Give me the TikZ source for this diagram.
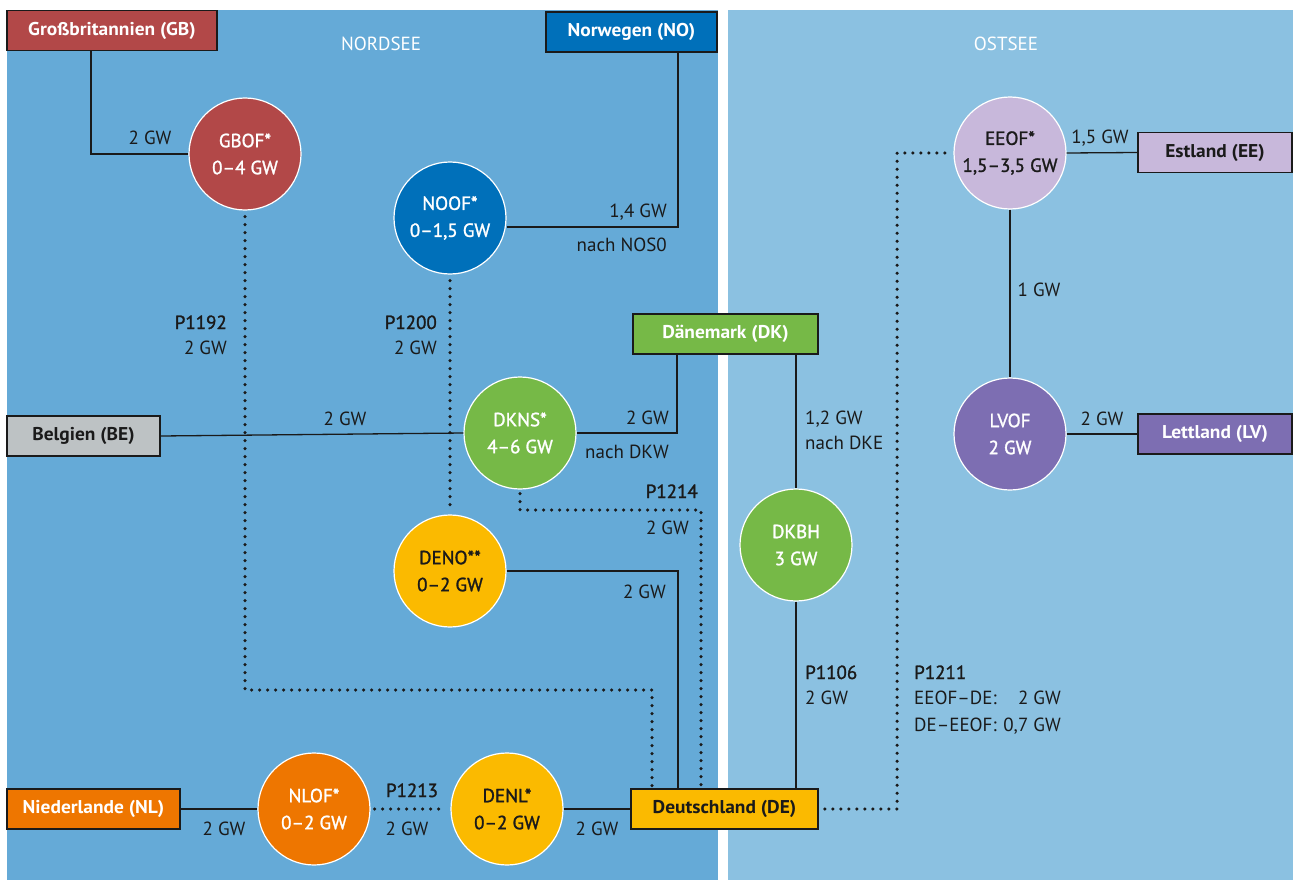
\documentclass[tikz,border=0pt]{standalone}
\usepackage{fontspec}
\setmainfont{PT Sans}[Ligatures=TeX]
\newfontfamily\medfont{PT Sans}[FakeBold=1.4, Ligatures=TeX]
\newfontfamily\boldfont{PT Sans Bold}[FakeStretch=1.05, Ligatures=TeX]
\definecolor{nord}{HTML}{65AAD7}
\definecolor{ost}{HTML}{8BC1E1}
\definecolor{gbred}{HTML}{B24848}
\definecolor{noblue}{HTML}{0070BA}
\definecolor{dkgreen}{HTML}{76B947}
\definecolor{deyellow}{HTML}{FBBA00}
\definecolor{nlorange}{HTML}{EE7600}
\definecolor{begrey}{HTML}{BDC2C4}
\definecolor{eelilac}{HTML}{C8B8DB}
\definecolor{lvpurple}{HTML}{7D6EB2}
\definecolor{ink}{HTML}{1A1A1A}
\begin{document}
\begin{tikzpicture}[x=1pt,y=-1pt,
  every node/.style={font=\fontsize{19}{27}\selectfont, text=ink},
  box/.style={draw=ink, line width=1.5pt, minimum height=40pt, inner sep=0pt,
    font=\fontsize{18.5}{27}\selectfont\boldfont},
  hub/.style={circle, draw=white, line width=1.2pt, minimum size=112pt, inner sep=0pt,
    align=center, font=\fontsize{19}{27}\selectfont\medfont},
  lbl/.style={inner sep=0pt},
  plbl/.style={inner sep=0pt, font=\fontsize{19}{27}\selectfont\medfont},
  conn/.style={line width=1.3pt, draw=ink},
  dots/.style={line width=3.5pt, draw=ink, dash pattern=on 0pt off 8pt, line cap=round}
]
\useasboundingbox (0,0) rectangle (1293,880);
\fill[white] (0,0) rectangle (1293,880);
\fill[nord] (7,10) rectangle (718,880);
\fill[ost] (728,10) rectangle (1293,880);

\node[lbl, text=white, anchor=base] (nordsee) at (381,51) {NORDSEE};
\node[lbl, text=white, anchor=base] (ostsee) at (1006,51) {OSTSEE};

% country boxes
\node[box, fill=gbred, text=white, minimum width=210pt] (GB) at (112,30.5) {Großbritannien (GB)};
\node[box, fill=noblue, text=white, minimum width=171pt] (NO) at (631.5,32) {Norwegen (NO)};
\node[box, fill=dkgreen, text=white, minimum width=185pt] (DK) at (725.5,334) {Dänemark (DK)};
\node[box, fill=begrey, minimum width=153pt] (BE) at (83.5,436) {Belgien (BE)};
\node[box, fill=deyellow, minimum width=187pt] (DE) at (724.5,809) {Deutschland (DE)};
\node[box, fill=nlorange, text=white, minimum width=173pt] (NL) at (93.5,809) {Niederlande (NL)};
\node[box, fill=eelilac, minimum width=154pt] (EE) at (1215,152.5) {Estland (EE)};
\node[box, fill=lvpurple, text=white, minimum width=154pt] (LV) at (1215,434) {Lettland (LV)};

% hubs
\node[hub, fill=gbred, text=white] (GBOF) at (245,154) {GBOF*\\0–4 GW};
\node[hub, fill=noblue, text=white] (NOOF) at (450,218) {NOOF*\\0–1,5 GW};
\node[hub, fill=eelilac] (EEOF) at (1010,153) {EEOF*\\1,5–3,5 GW};
\node[hub, fill=dkgreen, text=white] (DKNS) at (520,433) {DKNS*\\4–6 GW};
\node[hub, fill=lvpurple, text=white] (LVOF) at (1010,434) {LVOF\\2 GW};
\node[hub, fill=dkgreen, text=white] (DKBH) at (796,545) {DKBH\\3 GW};
\node[hub, fill=deyellow] (DENO) at (450,571) {DENO**\\0–2 GW};
\node[hub, fill=nlorange, text=white] (NLOF) at (314,809) {NLOF*\\0–2 GW};
\node[hub, fill=deyellow] (DENL) at (507,809) {DENL*\\0–2 GW};

% coordinates for dotted routes
\coordinate (c1192) at (652,690);
\coordinate (c1214) at (701,510);
\coordinate (c1211) at (897,153);

% solid connectors
\draw[conn] ([xshift=-21pt]GB.south) |- (GBOF.west);
\draw[conn] ([xshift=46.5pt]NO.south) |- ([yshift=-9pt]NOOF.east);
\draw[conn] ([xshift=-48.5pt]DK.south) |- (DKNS.east);
\draw[conn] (DK.south -| DKBH.north) -- (DKBH.north);
\draw[conn] (BE.east) -- (DKNS.west);
\draw[conn] (EEOF.east) -- (EE.west);
\draw[conn] (EEOF.south) -- (LVOF.north);
\draw[conn] (LVOF.east) -- (LV.west);
\draw[conn] (DENO.east) -| ([xshift=-46.5pt]DE.north);
\draw[conn] (DKBH.south) -- (DKBH.south |- DE.north);
\draw[conn] (NL.east) -- (NLOF.west);
\draw[conn] (DENL.east) -- (DE.west);

% dotted connectors
\draw[dots] ([yshift=-6pt]GBOF.south) |- (c1192) -- (c1192 |- DE.north);
\draw[dots] ([yshift=-6pt]NOOF.south) -- ([yshift=4pt]DENO.north);
\draw[dots] ([yshift=-4pt]DKNS.south) |- (c1214) -- (c1214 |- DE.north);
\draw[dots] ([xshift=6pt]DE.east) -| (c1211) -- ([xshift=-4pt]EEOF.west);
\draw[dots] ([xshift=4pt]NLOF.east) -- ([xshift=-4pt]DENL.west);

% labels
\node[lbl, anchor=base] (l1) at (150,145) {2 GW};
\node[lbl, anchor=base east] (l2) at (667,217) {1,4 GW};
\node[lbl, anchor=base east] (l3) at (667,251) {nach NOS0};
\node[lbl, anchor=base east] (l4) at (669,424) {2 GW};
\node[lbl, anchor=base east] (l5) at (669,458) {nach DKW};
\node[lbl, anchor=base west] (l6) at (805,424) {1,2 GW};
\node[lbl, anchor=base west] (l7) at (805,449) {nach DKE};
\node[lbl, anchor=base] (l8) at (345,425) {2 GW};
\node[plbl, anchor=base east] (l9) at (227,329) {P1192};
\node[lbl, anchor=base east] (l10) at (227,354) {2 GW};
\node[plbl, anchor=base east] (l11) at (437,329) {P1200};
\node[lbl, anchor=base east] (l12) at (437,354) {2 GW};
\node[plbl, anchor=base east] (l13) at (698,498) {P1214};
\node[lbl, anchor=base east] (l14) at (689,534) {2 GW};
\node[lbl, anchor=base east] (l15) at (666,598) {2 GW};
\node[plbl, anchor=base west] (l16) at (805,679) {P1106};
\node[lbl, anchor=base west] (l17) at (805,704) {2 GW};
\node[plbl, anchor=base west] (l18) at (914,679) {P1211};
\node[lbl, anchor=base west] (l19) at (914,704) {EEOF–DE:};
\node[lbl, anchor=base east] (l20) at (1061,704) {2 GW};
\node[lbl, anchor=base west] (l21) at (914,731) {DE–EEOF:};
\node[lbl, anchor=base east] (l22) at (1061,731) {0,7 GW};
\node[lbl, anchor=base] (l23) at (1100,144) {1,5 GW};
\node[lbl, anchor=base] (l24) at (1039,296) {1 GW};
\node[lbl, anchor=base] (l25) at (1102,425) {2 GW};
\node[lbl, anchor=base] (l26) at (224,835) {2 GW};
\node[plbl, anchor=base] (l27) at (412,797) {P1213};
\node[lbl, anchor=base] (l28) at (407,835) {2 GW};
\node[lbl, anchor=base] (l29) at (597,835) {2 GW};
\end{tikzpicture}
\end{document}
